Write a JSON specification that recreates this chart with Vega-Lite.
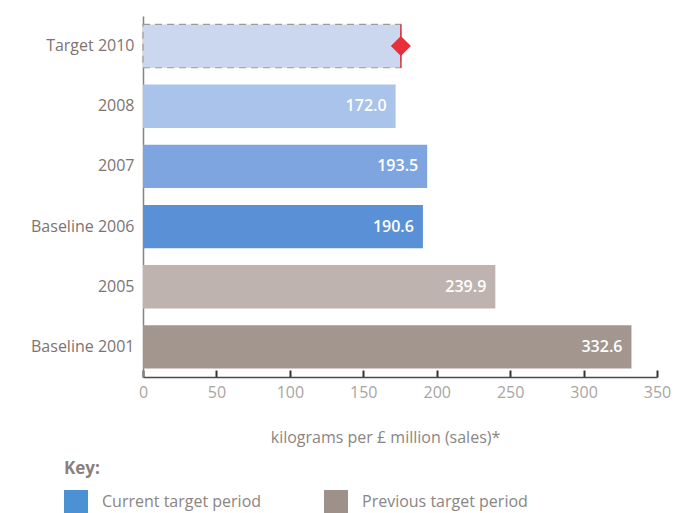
{
  "$schema": "https://vega.github.io/schema/vega-lite/v6.json",
  "width": 514,
  "height": 361,
  "autosize": "none",
  "padding": {"left": 143, "top": 16, "right": 20, "bottom": 136},
  "background": "white",
  "config": {
    "view": {"stroke": null},
    "font": "Open Sans"
  },
  "datasets": {
    "bars": [
      {"label": "Target 2010", "value": 175.6, "text": ""},
      {"label": "2008", "value": 172.0, "text": "172.0"},
      {"label": "2007", "value": 193.5, "text": "193.5"},
      {"label": "Baseline 2006", "value": 190.6, "text": "190.6"},
      {"label": "2005", "value": 239.9, "text": "239.9"},
      {"label": "Baseline 2001", "value": 332.6, "text": "332.6"}
    ],
    "target": [
      {"label": "Target 2010", "value": 175.6}
    ],
    "key": [
      {"period": "Current target period"},
      {"period": "Previous target period"}
    ]
  },
  "layer": [
    {
      "data": {"name": "bars"},
      "mark": {"type": "bar", "strokeDash": [7, 5], "strokeWidth": 1.2},
      "encoding": {
        "y": {
          "field": "label",
          "type": "nominal",
          "sort": ["Target 2010", "2008", "2007", "Baseline 2006", "2005", "Baseline 2001"],
          "scale": {"paddingInner": 0.28, "paddingOuter": 0.14},
          "axis": {
            "title": null,
            "ticks": false,
            "domainColor": "#8c807a",
            "domainWidth": 1.5,
            "labelColor": "#7d7472",
            "labelFontSize": 16,
            "labelPadding": 9
          }
        },
        "x": {
          "field": "value",
          "type": "quantitative",
          "scale": {"domain": [0, 350], "nice": false},
          "axis": {
            "values": [0, 50, 100, 150, 200, 250, 300, 350],
            "title": "kilograms per £ million (sales)*",
            "titleColor": "#8a8583",
            "titleFontSize": 16,
            "titleFontWeight": "normal",
            "titleX": 242,
            "titleY": 60,
            "titleBaseline": "middle",
            "grid": false,
            "domainColor": "#4a4a4a",
            "domainWidth": 1.5,
            "tickColor": "#333333",
            "tickWidth": 2,
            "tickSize": -7,
            "labelColor": "#a8a5a4",
            "labelFontSize": 16,
            "labelPadding": 14,
            "labelFlush": false
          }
        },
        "color": {
          "field": "label",
          "type": "nominal",
          "scale": {
            "domain": ["Target 2010", "2008", "2007", "Baseline 2006", "2005", "Baseline 2001"],
            "range": ["#cbd7ef", "#a9c3ea", "#7ea5df", "#5a91d6", "#beb3ae", "#a3968f"]
          },
          "legend": null
        },
        "stroke": {
          "field": "label",
          "type": "nominal",
          "scale": {
            "domain": ["Target 2010", "2008", "2007", "Baseline 2006", "2005", "Baseline 2001"],
            "range": ["#9a9a9a", "transparent", "transparent", "transparent", "transparent", "transparent"]
          },
          "legend": null
        }
      }
    },
    {
      "data": {"name": "bars"},
      "mark": {"type": "text", "align": "right", "dx": -9, "color": "white", "fontSize": 16, "fontWeight": 600},
      "encoding": {
        "y": {"field": "label", "type": "nominal", "sort": ["Target 2010", "2008", "2007", "Baseline 2006", "2005", "Baseline 2001"]},
        "x": {"field": "value", "type": "quantitative"},
        "text": {"field": "text"}
      }
    },
    {
      "data": {"name": "target"},
      "mark": {"type": "rule", "color": "#e0303c", "strokeWidth": 1.5},
      "encoding": {
        "x": {"field": "value", "type": "quantitative"},
        "y": {"field": "label", "type": "nominal", "bandPosition": 0, "sort": ["Target 2010", "2008", "2007", "Baseline 2006", "2005", "Baseline 2001"]},
        "y2": {"field": "label", "bandPosition": 1}
      }
    },
    {
      "data": {"name": "target"},
      "mark": {"type": "point", "shape": "diamond", "filled": true, "size": 400, "color": "#e8303a", "opacity": 1},
      "encoding": {
        "x": {"field": "value", "type": "quantitative"},
        "y": {"field": "label", "type": "nominal", "sort": ["Target 2010", "2008", "2007", "Baseline 2006", "2005", "Baseline 2001"]}
      }
    },
    {
      "data": {"name": "key"},
      "mark": {"type": "point", "shape": "square", "filled": true, "opacity": 0},
      "encoding": {
        "color": {
          "field": "period",
          "type": "nominal",
          "scale": {
            "domain": ["Current target period", "Previous target period"],
            "range": ["#4b91d4", "#9e918a"]
          },
          "legend": {
            "title": "Key:",
            "orient": "none",
            "legendX": -79,
            "legendY": 445,
            "direction": "horizontal",
            "titleFontSize": 17,
            "titleFontWeight": "bold",
            "titleColor": "#8a8080",
            "titlePadding": 12,
            "symbolType": "square",
            "symbolSize": 576,
            "symbolOpacity": 1,
            "symbolStrokeWidth": 0,
            "labelFontSize": 16,
            "labelColor": "#8a8583",
            "labelOffset": 14,
            "labelLimit": 300,
            "columnPadding": 62
          }
        }
      }
    }
  ],
  "resolve": {"scale": {"color": "independent", "stroke": "independent"}}
}
